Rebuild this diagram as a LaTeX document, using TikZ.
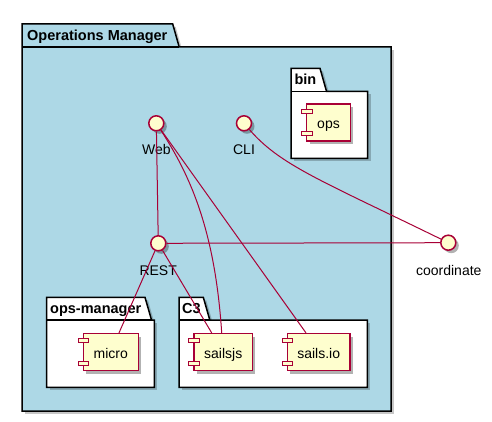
\documentclass[tikz,border=0pt]{standalone}
\usepackage{fontspec}
\setmainfont{Liberation Sans}
\usetikzlibrary{shadows,calc}
\definecolor{umlred}{HTML}{A80036}
\definecolor{umlyel}{HTML}{FEFECE}
\definecolor{pkgblue}{HTML}{ADD8E6}
\newcommand\pkgdraw[7]{%
  \fill[pshadow] ({#1+3},{#4+3}) rectangle ({#5+3},{#6+3});
  \fill[pshadow] ({#1+3},{#2+3}) -- ({#3+3},{#2+3}) -- ({#3+9.5},{#4+3}) -- ({#1+3},{#4+3}) -- cycle;
  \filldraw[pkg,fill=#7] (#1,#4) -- (#1,#2) -- (#3,#2) -- ({#3+6.5},#4) -- (#5,#4) -- (#5,#6) -- (#1,#6) -- cycle;
  \draw[pkg] (#1,#4) -- ({#3+6.5},#4);
}
\newcommand\compports[1]{%
  \draw[port] ([xshift=-4.7pt,yshift=-6pt]#1.north west) rectangle ++(10.7,4);
  \draw[port] ([xshift=-4.7pt,yshift=6pt]#1.south west) rectangle ++(10.7,-4);
}
\begin{document}
\begin{tikzpicture}[x=1pt,y=-1pt,
  shad/.style={drop shadow={shadow xshift=3pt,shadow yshift=-3pt,opacity=0.3,fill=black}},
  iface/.style={circle,draw=umlred,fill=umlyel,line width=1.5pt,minimum size=15pt,inner sep=0pt,shad},
  comp/.style={rectangle,draw=umlred,fill=umlyel,line width=1.2pt,inner sep=0pt,minimum height=37pt,text height=13pt,text depth=0pt,font=\fontsize{14}{16}\selectfont,shad},
  port/.style={draw=umlred,fill=umlyel,line width=1pt},
  lbl/.style={anchor=base,inner sep=0pt,font=\fontsize{14}{16}\selectfont},
  ptitle/.style={anchor=base west,inner sep=0pt,font=\fontsize{14.5}{16}\selectfont\bfseries},
  pkg/.style={draw=black,line width=1.5pt,line join=miter},
  pshadow/.style={fill=black,opacity=0.22},
  link/.style={draw=umlred,line width=1pt}]
\useasboundingbox (0,0) rectangle (492,422);
\fill[white] (0,0) rectangle (492,422);

% packages
\pkgdraw{22}{24}{172.7}{47}{391}{411}{pkgblue}
\node[ptitle] (tOM) at (27,40.7) {Operations Manager};
\pkgdraw{291}{68.3}{320}{91.3}{367.7}{158.3}{white}
\node[ptitle] (tbin) at (294.3,85) {bin};
\pkgdraw{46.7}{297.3}{145}{320}{154.3}{387.3}{white}
\node[ptitle] (topsm) at (50,313.7) {ops-manager};
\pkgdraw{179}{297.3}{203.3}{320}{367.3}{387.3}{white}
\node[ptitle] (tc3) at (182,313.7) {C3};

% components
\node[comp,minimum width=43.6pt] (ops) at (328.5,122.5) {ops};
\compports{ops}
\node[comp,minimum width=55pt] (micro) at (110.8,352) {micro};
\compports{micro}
\node[comp,minimum width=58.3pt] (sailsjs) at (223.2,352) {sailsjs};
\compports{sailsjs}
\node[comp,minimum width=62.7pt] (sailsio) at (318.7,352) {sails.io};
\compports{sailsio}

% interfaces
\node[iface] (web) at (156.3,123.3) {};
\node[iface] (cli) at (244,123.3) {};
\node[iface] (rest) at (158.3,243.3) {};
\node[iface] (coord) at (448.3,242.7) {};
\node[lbl] (webl) at (156.3,155) {Web};
\node[lbl] (clil) at (244,155) {CLI};
\node[lbl] (restl) at (158.2,275) {REST};
\node[lbl] (coordl) at (448.8,275) {coordinate};

% links
\draw[link] (web) -- (rest);
\draw[link] (web) .. controls (190,175) and (215,230) .. ([xshift=-1.5pt]sailsjs.north);
\draw[link] (web) -- ([xshift=-12.7pt]sailsio.north);
\draw[link] (rest) -- ([xshift=8.2pt]micro.north);
\draw[link] (rest) -- ([xshift=-11.5pt]sailsjs.north);
\draw[link] (rest) -- (coord);
\draw[link] (cli) .. controls (280,165) and (320,180) .. (coord);
\end{tikzpicture}
\end{document}
